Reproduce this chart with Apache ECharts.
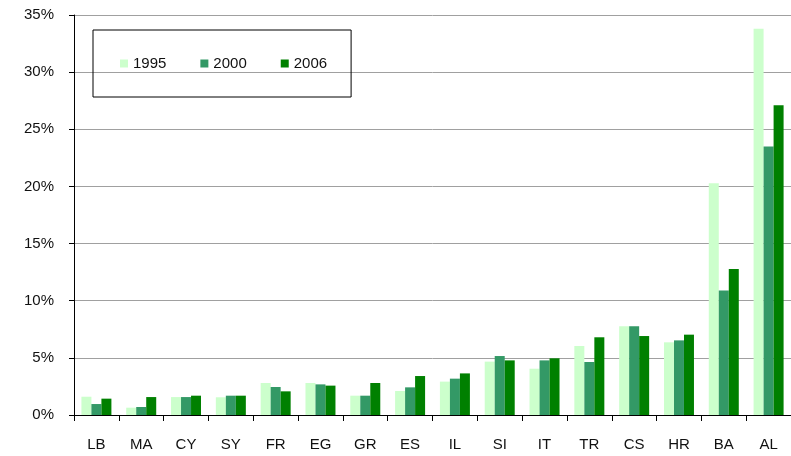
<!DOCTYPE html>
<html>
<head>
<meta charset="utf-8">
<script src="https://cdn.jsdelivr.net/npm/echarts@6/dist/echarts.min.js"></script>
<style>html,body{margin:0;padding:0;background:#fff;}#c{width:791px;height:456px;}</style>
</head>
<body>
<div id="c"></div>
<script>
const categories = ['LB','MA','CY','SY','FR','EG','GR','ES','IL','SI','IT','TR','CS','HR','BA','AL'];
const s1995 = [1.6, 0.64, 1.57, 1.55, 2.8, 2.8, 1.69, 2.1, 2.92, 4.67, 4.05, 6.04, 7.76, 6.36, 20.27, 33.8];
const s2000 = [0.96, 0.7, 1.57, 1.69, 2.45, 2.68, 1.69, 2.42, 3.18, 5.16, 4.78, 4.64, 7.76, 6.53, 10.9, 23.5];
const s2006 = [1.43, 1.57, 1.69, 1.69, 2.07, 2.57, 2.8, 3.41, 3.64, 4.78, 4.96, 6.8, 6.91, 7.03, 12.77, 27.1];
const yTicks = [0, 5, 10, 15, 20, 25, 30, 35];

const font = 'Liberation Sans, Arial, sans-serif';
const chart = echarts.init(document.getElementById('c'));
chart.setOption({
  animation: false,
  backgroundColor: '#fff',
  grid: { left: 74, right: 0, top: 15, bottom: 41, containLabel: false },
  legend: {
    left: 93, top: 30,
    padding: [26, 24, 26, 27],
    borderColor: '#000', borderWidth: 1,
    itemWidth: 8, itemHeight: 8, itemGap: 34,
    icon: 'rect',
    textStyle: { fontFamily: font, fontSize: 15, color: '#111' },
    data: ['1995', '2000', '2006']
  },
  xAxis: {
    type: 'category',
    data: categories,
    axisLine: { lineStyle: { color: '#000', width: 1 } },
    axisTick: { show: true, alignWithLabel: false, length: 6, lineStyle: { color: '#000' } },
    axisLabel: { fontFamily: font, fontSize: 15, color: '#111', margin: 22, interval: 0 }
  },
  yAxis: {
    type: 'value',
    min: yTicks[0], max: yTicks[yTicks.length - 1], interval: 5,
    axisLine: { show: true, lineStyle: { color: '#000', width: 1 } },
    axisTick: { show: true, length: 5, lineStyle: { color: '#000' } },
    axisLabel: { fontFamily: font, fontSize: 15, color: '#111', margin: 20, formatter: '{value}%' },
    splitLine: { show: true, lineStyle: { color: '#a0a0a0', width: 1 } }
  },
  series: [
    { name: '1995', type: 'bar', data: s1995, barWidth: 10, barGap: '0%', itemStyle: { color: '#ccffcc' } },
    { name: '2000', type: 'bar', data: s2000, barWidth: 10, barGap: '0%', itemStyle: { color: '#339966' } },
    { name: '2006', type: 'bar', data: s2006, barWidth: 10, barGap: '0%', itemStyle: { color: '#008000' } }
  ]
});
</script>
</body>
</html>
